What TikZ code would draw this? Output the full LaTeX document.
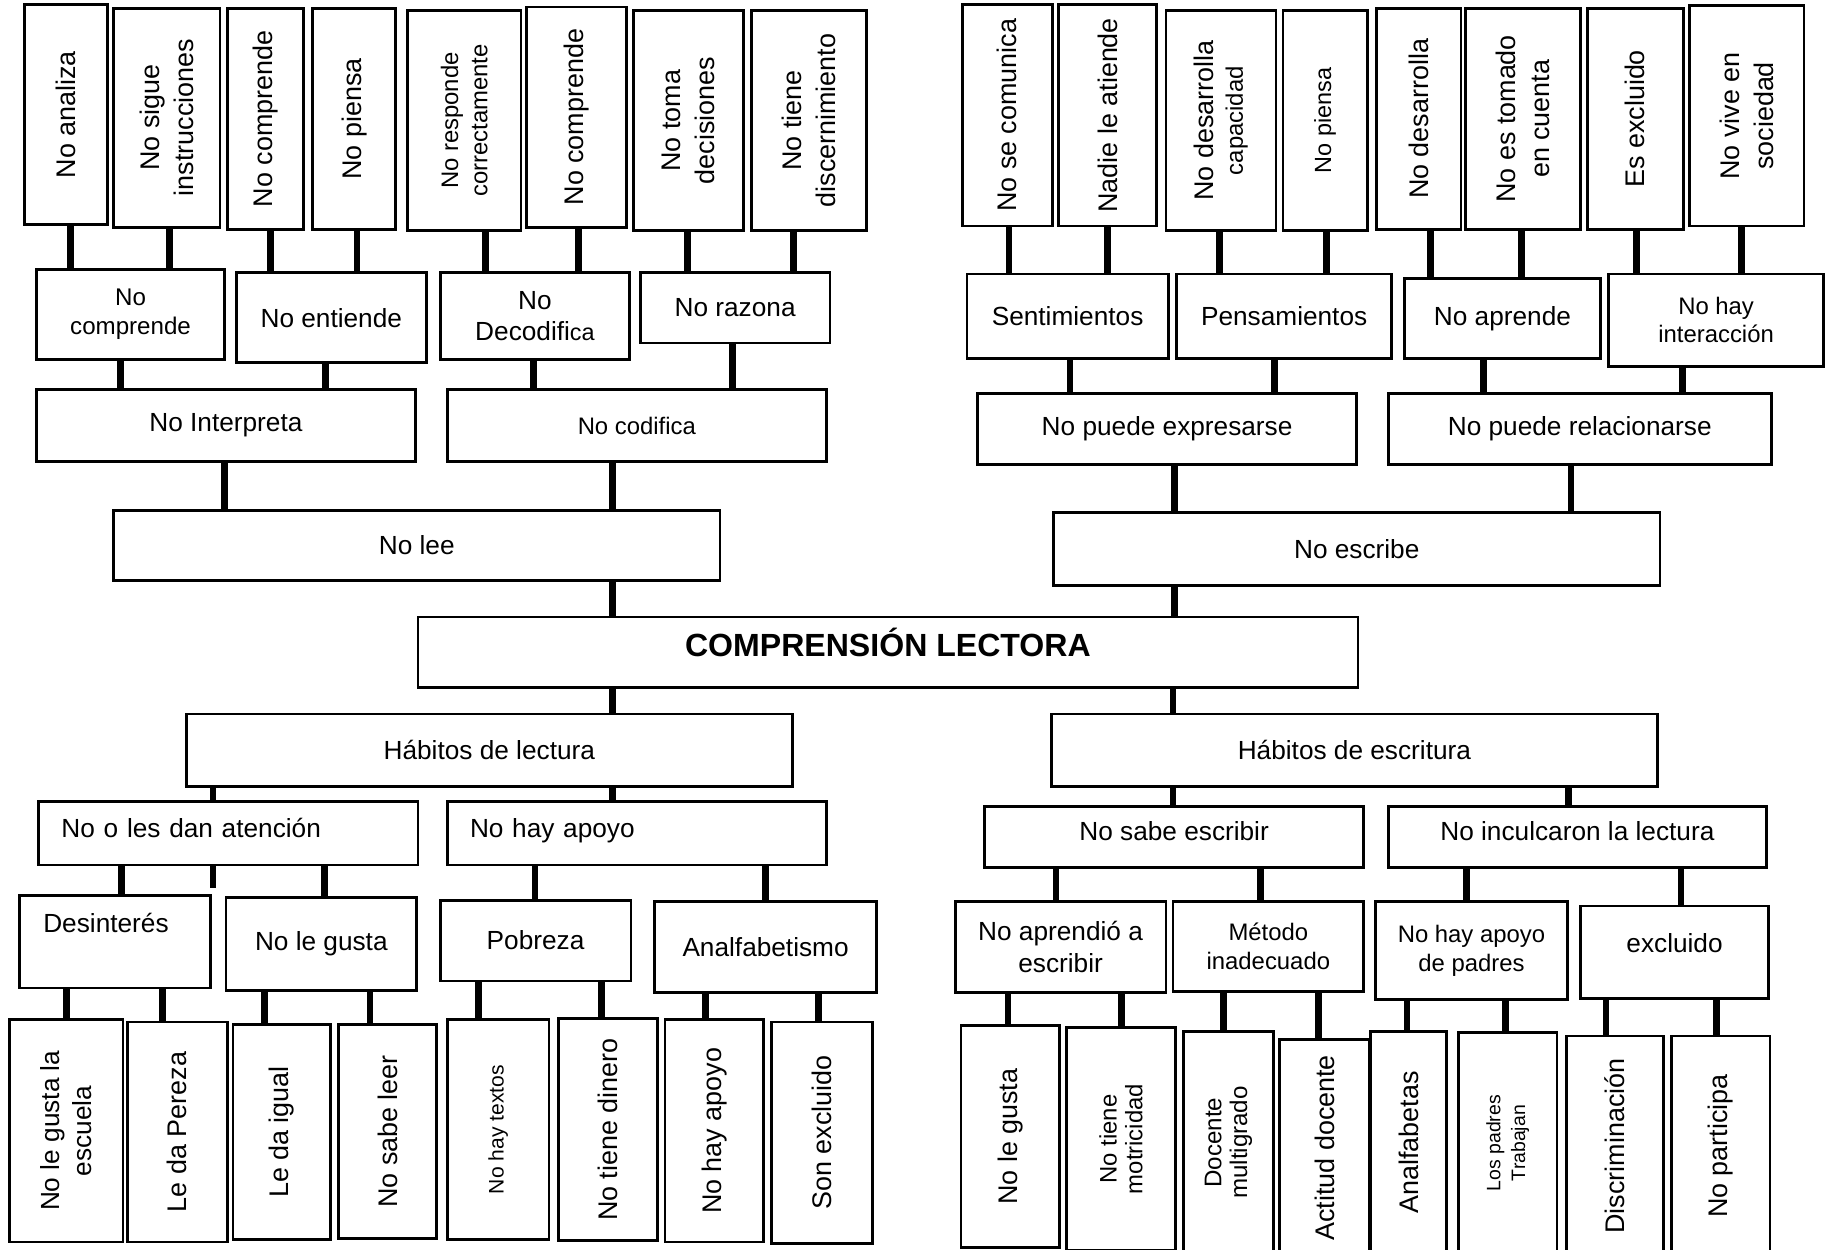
\documentclass[tikz,border=0pt]{standalone}
\usepackage{fontspec}
\setmainfont{Liberation Sans}
\usetikzlibrary{calc,backgrounds}

\begin{document}
\begin{tikzpicture}[x=0.5pt,y=-0.5pt,
  box/.style={rectangle,draw=black,line width=1.2pt,fill=white,inner sep=2pt,align=center,font=\fontsize{11.2}{13.5}\selectfont},
  hb/.style n args={2}{box,minimum width=#1*0.5pt,minimum height=#2*0.5pt},
  vb/.style n args={2}{box,rotate=90,minimum width=#2*0.5pt,minimum height=#1*0.5pt,font=\fontsize{11.5}{14.5}\selectfont},
  link/.style={line width=2.9pt}]
\useasboundingbox (0,0) rectangle (1565,1067);

% causas de "No lee"
\node[vb={71}{188}] (a1) at (56.5,98) {No analiza};
\node[vb={91}{187}] (a2) at (142.5,100.5) {No sigue\\instrucciones};
\node[vb={65}{189}] (a3) at (226.5,101.5) {No comprende};
\node[vb={71}{189}] (a4) at (302.5,101.5) {No piensa};
\node[vb={97}{188},font=\fontsize{10.2}{12.5}\selectfont] (a5) at (396.5,103) {No responde\\correctamente};
\node[vb={85}{188}] (a6) at (492.5,100) {No comprende};
\node[vb={94}{188}] (a7) at (588,103) {No toma\\decisiones};
\node[vb={98}{188}] (a8) at (691,103) {No tiene\\discernimiento};
\node[hb={161}{77},font=\fontsize{10.3}{12.5}\selectfont] (b1) at (111.5,268.5) {No\\comprende};
\node[hb={162}{77}] (b2) at (283,271.5) {No entiende};
\node[hb={162}{74}] (b3) at (457,270) {No\\Decodifi{\fontsize{10}{12}\selectfont ca}};
\node[hb={162}{60}] (b4) at (628,263) {No razona};
\node[hb={324}{61}] (c1) at (193,363.5) {No Interpreta};
\node[hb={324}{61},font=\fontsize{10.2}{12}\selectfont] (c2) at (544,363.5) {No codifica};
\node[hb={518}{60}] (d1) at (356,466) {No lee};

% centro
\node[hb={803}{60},text depth=8pt,font=\bfseries\fontsize{13.7}{16}\selectfont] (root) at (758.5,557) {COMPRENSIÓN LECTORA};

% causas de "No escribe"
\node[vb={77}{189}] (e1) at (860.5,98.5) {No se comunica};
\node[vb={84}{189}] (e2) at (946,98.5) {Nadie le atiende};
\node[vb={94}{188},font=\fontsize{11.5}{12.5}\selectfont] (e3) at (1043,103) {No desarrolla\\{\fontsize{10.2}{12}\selectfont capacidad}};
\node[vb={72}{188},font=\fontsize{10}{12}\selectfont] (e4) at (1132,103) {No piensa};
\node[vb={72}{189}] (e5) at (1212,101.5) {No desarrolla};
\node[vb={98}{189}] (e6) at (1301,101.5) {No es tomado\\en cuenta};
\node[vb={82}{189}] (e7) at (1397,101.5) {Es excluido};
\node[vb={98}{188}] (e8) at (1492,99) {No vive en\\sociedad};
\node[hb={172}{72}] (f1) at (912,270) {Sentimientos};
\node[hb={184}{72}] (f2) at (1097,270) {Pensamientos};
\node[hb={167}{68}] (f3) at (1283.5,272) {No aprende};
\node[hb={184}{79},font=\fontsize{10.2}{12}\selectfont] (f4) at (1466,273.5) {No hay\\interacción};
\node[hb={324}{61}] (g1) at (997,366.5) {No puede expresarse};
\node[hb={327}{61}] (g2) at (1349.5,366.5) {No puede relacionarse};
\node[hb={518}{62}] (d2) at (1159,469) {No escribe};

% habitos de lectura
\node[hb={518}{62}] (h1) at (418,641) {Hábitos de lectura};
\node[hb={324}{54},align=left,text width=142.5pt,inner xsep=9.75pt,text depth=5pt] (i1) at (195,712) {No o les dan atención};
\node[hb={324}{54},align=left,text width=142.5pt,inner xsep=9.75pt,text depth=5pt] (i2) at (544,712) {No hay apoyo};
\node[hb={163}{79},align=left,text width=61.5pt,inner xsep=10pt] (j1) at (98.5,804.5) {Desinterés\\[3pt]~};
\node[hb={163}{79}] (j2) at (274.5,806.5) {No le gusta};
\node[hb={163}{69}] (j3) at (457.5,803.5) {Pobreza};
\node[hb={190}{78}] (j4) at (654,809) {Analfabetismo};
\node[vb={97}{190},font=\fontsize{11.2}{14}\selectfont] (k1) at (56.5,966) {No le gusta la\\escuela};
\node[vb={85}{188}] (k2) at (151.5,967) {Le da Pereza};
\node[vb={83}{184}] (k3) at (240.5,967) {Le da igual};
\node[vb={84}{183}] (k4) at (331,966.5) {No sabe leer};
\node[vb={87}{188},font=\fontsize{9}{11}\selectfont] (k5) at (425.5,965) {No hay textos};
\node[vb={85}{190}] (k6) at (519.5,965) {No tiene dinero};
\node[vb={84}{190}] (k7) at (610,966) {No hay apoyo};
\node[vb={86}{189}] (k8) at (702,967.5) {Son excluido};

% habitos de escritura
\node[hb={518}{62}] (h2) at (1157,641) {Hábitos de escritura};
\node[hb={324}{52},text depth=5pt] (i3) at (1003,715) {No sabe escribir};
\node[hb={323}{52},text depth=5pt] (i4) at (1347.5,715) {No inculcaron la lectura};
\node[hb={180}{78}] (j5) at (906,809) {No aprendió a\\escribir};
\node[hb={163}{77},font=\fontsize{10.2}{12.5}\selectfont] (j6) at (1083.5,808.5) {Método\\inadecuado};
\node[hb={164}{84},font=\fontsize{10.2}{12.5}\selectfont] (j7) at (1257,812) {No hay apoyo\\de padres};
\node[hb={161}{79},text depth=8pt] (j8) at (1430.5,813.5) {excluido};
\node[vb={84}{190}] (k9) at (863,971) {No le gusta};
\node[vb={93}{190},font=\fontsize{10.2}{11}\selectfont] (k10) at (957.5,973) {No tiene\\motricidad};
\node[vb={77}{190},font=\fontsize{10.3}{11}\selectfont] (k11) at (1049.5,976) {Docente\\multigrado};
\node[vb={77}{185}] (k12) at (1131.5,980.5) {Actitud docente};
\node[vb={65}{190}] (k13) at (1203.5,976) {Analfabetas};
\node[vb={84}{189},font=\fontsize{8.3}{10.5}\selectfont] (k14) at (1288,976.5) {Los padres\\Trabajan};
\node[vb={83}{188}] (k15) at (1379.5,979) {Discriminación};
\node[vb={84}{188}] (k16) at (1470,979) {No participa};

\begin{scope}[on background layer]
% lineas de arriba: desplazamiento desde el nodo de arriba
\foreach \u/\l/\d in {a1/b1/3.5, a2/b1/2.5, a3/b2/4.5, a4/b2/2.5, a5/b3/18.5, a6/b3/1.5, a7/b4/-1, a8/b4/-13,
    b1/c1/-8.5, b2/c1/-5, b3/c2/-1, b4/c2/-2, c1/d1/-1, c2/d1/-21, d1/root/167,
    e1/f1/1.5, e2/f1/0, e3/f2/-1, e4/f2/1, e5/f3/10, e6/f3/-1, e7/f4/1, e8/f4/-4,
    f1/g1/2, f2/g1/-8, f3/g2/-16.5, f4/g2/-29, g1/d2/6, g2/d2/-7.5, d2/root/-156}
  \draw[link] ($(\u.center)+(\d,0)$) coordinate (t) -- (t |- \l.center);
% lineas de abajo: desplazamiento desde el nodo de abajo
\foreach \u/\l/\d in {root/h1/105, root/h2/-155, h1/i1/-13, h1/i2/-21,
    i1/j1/5.5, i1/j2/2.5, i2/j3/-0.5, i2/j4/0,
    j1/k1/0.5, j1/k2/-12.5, j2/k3/-14.5, j2/k4/-15, j3/k5/-16.5, j3/k6/-5.5, j4/k7/-7, j4/k8/-3,
    h2/i3/-1, h2/i4/-7.5, i3/j5/-4, i3/j6/-6.5, i4/j7/-4, i4/j8/5.5,
    j5/k9/-2, j5/k10/0.5, j6/k11/-4.5, j6/k12/-5.5, j7/k13/-1.5, j7/k14/-2, j8/k15/-7.5, j8/k16/-4}
  \draw[link] ($(\l.center)+(\d,0)$) coordinate (t) -- (t |- \u.center);
\end{scope}
\draw[link] ($(i1.south)+(-13,0)$) -- ++(0,18);
\end{tikzpicture}
\end{document}
